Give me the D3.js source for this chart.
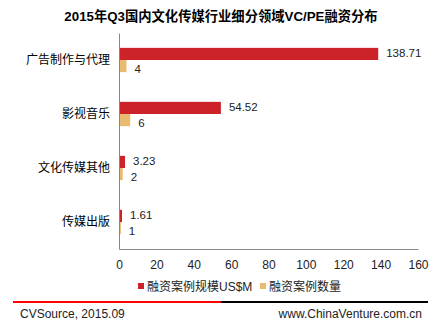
<!DOCTYPE html>
<html><head><meta charset="utf-8">
<script src="https://cdn.jsdelivr.net/npm/d3@7"></script>
<style>body{margin:0;background:#fff}svg{display:block}</style>
</head><body>
<svg id="c" width="434" height="322"></svg>
<script>
const categories = ["广告制作与代理","影视音乐","文化传媒其他","传媒出版"];
const amountUSM = [138.71, 54.52, 3.23, 1.61];
const dealCount = [4, 6, 2, 1];
const xTicks = [0,20,40,60,80,100,120,140,160];
const seriesNames = ["融资案例规模US$M","融资案例数量"];
const colors = ["#cc2229","#e8bb70"];

(function(){
const svg = d3.select("#c");
const font = "'Liberation Sans', Arial, 'Noto Sans CJK SC', sans-serif";
const plotL = 119, plotR = 418, plotT = 33, plotB = 249;

const x = d3.scaleLinear().domain([0,160]).range([plotL,plotR]);
const y = d3.scaleBand().domain(categories).range([plotT,plotB]).paddingInner(0.55).paddingOuter(0.275);
const sub = d3.scaleBand().domain([0,1]).range([0,y.bandwidth()]);

svg.append("text").attr("x",221).attr("y",21).attr("text-anchor","middle")
  .attr("font-family",font).attr("font-weight","bold").attr("font-size",13.3).attr("fill","#000")
  .text("2015年Q3国内文化传媒行业细分领域VC/PE融资分布");

// value labels sit slightly apart so the pair stays readable
const labelShift = [-0.5, 2.5];
const series = [amountUSM, dealCount];
series.forEach((vals,si)=>{
  const g = svg.append("g");
  g.selectAll("rect").data(categories).join("rect")
    .attr("x",x(0)).attr("y",d=>y(d)+sub(si))
    .attr("width",(d,i)=>x(vals[i])-x(0)).attr("height",sub.bandwidth())
    .attr("fill",colors[si]);
  g.selectAll("text").data(categories).join("text")
    .attr("x",(d,i)=>x(vals[i])+8).attr("y",d=>y(d)+sub(si)+sub.bandwidth()/2+4+labelShift[si])
    .attr("font-family",font).attr("font-size",11.5).attr("fill","#222")
    .text((d,i)=>vals[i]);
});

// axes
const xAxis = svg.append("g").attr("transform",`translate(0,${plotB})`)
  .call(d3.axisBottom(x).tickValues(xTicks).tickSize(0).tickPadding(11));
xAxis.select(".domain").attr("stroke","#888");
xAxis.selectAll("text").attr("font-family",font).attr("font-size",12).attr("fill","#222");

const yAxis = svg.append("g").attr("transform",`translate(${plotL},0)`)
  .call(d3.axisLeft(y).tickSize(0).tickPadding(9));
yAxis.select(".domain").attr("stroke","#888");
yAxis.selectAll("text").attr("font-family",font).attr("font-size",12).attr("fill","#000");

// legend
const lg = svg.append("g");
const lx = [138, 260];
seriesNames.forEach((n,i)=>{
  lg.append("rect").attr("x",lx[i]).attr("y",283).attr("width",6).attr("height",6).attr("fill",colors[i]);
  lg.append("text").attr("x",lx[i]+9).attr("y",291).attr("font-family",font).attr("font-size",12).attr("fill","#222").text(n);
});

// footer
svg.append("line").attr("x1",13).attr("x2",221).attr("y1",302).attr("y2",302).attr("stroke","#ff0000").attr("stroke-width",2);
svg.append("line").attr("x1",221).attr("x2",428).attr("y1",302).attr("y2",302).attr("stroke","#000").attr("stroke-width",2);
svg.append("text").attr("x",20).attr("y",318).attr("font-family",font).attr("font-size",12).attr("fill","#222").text("CVSource, 2015.09");
svg.append("text").attr("x",422).attr("y",318).attr("text-anchor","end").attr("font-family",font).attr("font-size",12).attr("fill","#222").text("www.ChinaVenture.com.cn");
})();
</script>
</body></html>
